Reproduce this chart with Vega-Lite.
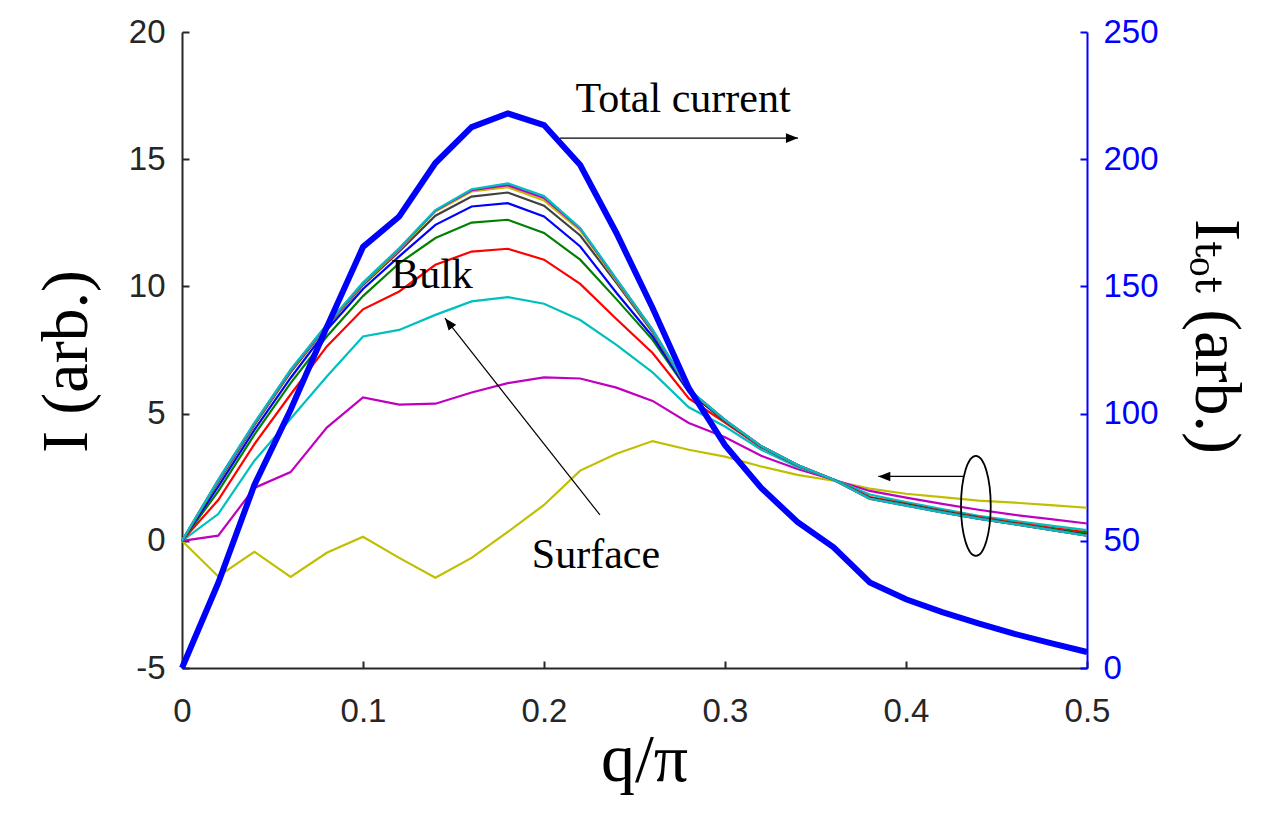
{
  "$schema": "https://vega.github.io/schema/vega-lite/v6.json",
  "width": 905,
  "height": 636,
  "autosize": {"type": "none"},
  "padding": {"left": 182, "top": 32, "right": 195, "bottom": 168},
  "background": "white",
  "datasets": {
    "curves": [
      {"layer":"1","q":0,"I":0},{"layer":"1","q":0.02,"I":-1.4},{"layer":"1","q":0.04,"I":-0.43},{"layer":"1","q":0.06,"I":-1.42},{"layer":"1","q":0.08,"I":-0.47},{"layer":"1","q":0.1,"I":0.16},{"layer":"1","q":0.12,"I":-0.67},{"layer":"1","q":0.14,"I":-1.45},{"layer":"1","q":0.16,"I":-0.67},{"layer":"1","q":0.18,"I":0.35},{"layer":"1","q":0.2,"I":1.41},{"layer":"1","q":0.22,"I":2.76},{"layer":"1","q":0.24,"I":3.42},{"layer":"1","q":0.26,"I":3.92},{"layer":"1","q":0.28,"I":3.58},{"layer":"1","q":0.3,"I":3.31},{"layer":"1","q":0.32,"I":2.92},{"layer":"1","q":0.34,"I":2.59},{"layer":"1","q":0.36,"I":2.36},{"layer":"1","q":0.38,"I":2.05},{"layer":"1","q":0.4,"I":1.85},{"layer":"1","q":0.42,"I":1.72},{"layer":"1","q":0.44,"I":1.58},{"layer":"1","q":0.46,"I":1.5},{"layer":"1","q":0.48,"I":1.4},{"layer":"1","q":0.5,"I":1.3},
      {"layer":"2","q":0,"I":0},{"layer":"2","q":0.02,"I":0.2},{"layer":"2","q":0.04,"I":2.08},{"layer":"2","q":0.06,"I":2.7},{"layer":"2","q":0.08,"I":4.45},{"layer":"2","q":0.1,"I":5.64},{"layer":"2","q":0.12,"I":5.35},{"layer":"2","q":0.14,"I":5.39},{"layer":"2","q":0.16,"I":5.83},{"layer":"2","q":0.18,"I":6.2},{"layer":"2","q":0.2,"I":6.42},{"layer":"2","q":0.22,"I":6.38},{"layer":"2","q":0.24,"I":6.02},{"layer":"2","q":0.26,"I":5.5},{"layer":"2","q":0.28,"I":4.63},{"layer":"2","q":0.3,"I":4.07},{"layer":"2","q":0.32,"I":3.34},{"layer":"2","q":0.34,"I":2.82},{"layer":"2","q":0.36,"I":2.4},{"layer":"2","q":0.38,"I":1.96},{"layer":"2","q":0.4,"I":1.7},{"layer":"2","q":0.42,"I":1.45},{"layer":"2","q":0.44,"I":1.22},{"layer":"2","q":0.46,"I":1.02},{"layer":"2","q":0.48,"I":0.85},{"layer":"2","q":0.5,"I":0.68},
      {"layer":"3","q":0,"I":0},{"layer":"3","q":0.02,"I":1.05},{"layer":"3","q":0.04,"I":3.15},{"layer":"3","q":0.06,"I":4.8},{"layer":"3","q":0.08,"I":6.46},{"layer":"3","q":0.1,"I":8.03},{"layer":"3","q":0.12,"I":8.29},{"layer":"3","q":0.14,"I":8.88},{"layer":"3","q":0.16,"I":9.41},{"layer":"3","q":0.18,"I":9.58},{"layer":"3","q":0.2,"I":9.32},{"layer":"3","q":0.22,"I":8.68},{"layer":"3","q":0.24,"I":7.7},{"layer":"3","q":0.26,"I":6.62},{"layer":"3","q":0.28,"I":5.25},{"layer":"3","q":0.3,"I":4.49},{"layer":"3","q":0.32,"I":3.58},{"layer":"3","q":0.34,"I":2.9},{"layer":"3","q":0.36,"I":2.42},{"layer":"3","q":0.38,"I":1.82},{"layer":"3","q":0.4,"I":1.52},{"layer":"3","q":0.42,"I":1.25},{"layer":"3","q":0.44,"I":0.98},{"layer":"3","q":0.46,"I":0.78},{"layer":"3","q":0.48,"I":0.6},{"layer":"3","q":0.5,"I":0.42},
      {"layer":"4","q":0,"I":0},{"layer":"4","q":0.02,"I":1.6},{"layer":"4","q":0.04,"I":3.8},{"layer":"4","q":0.06,"I":5.75},{"layer":"4","q":0.08,"I":7.64},{"layer":"4","q":0.1,"I":9.1},{"layer":"4","q":0.12,"I":9.8},{"layer":"4","q":0.14,"I":10.85},{"layer":"4","q":0.16,"I":11.37},{"layer":"4","q":0.18,"I":11.48},{"layer":"4","q":0.2,"I":11.05},{"layer":"4","q":0.22,"I":10.1},{"layer":"4","q":0.24,"I":8.72},{"layer":"4","q":0.26,"I":7.38},{"layer":"4","q":0.28,"I":5.6},{"layer":"4","q":0.3,"I":4.65},{"layer":"4","q":0.32,"I":3.68},{"layer":"4","q":0.34,"I":2.96},{"layer":"4","q":0.36,"I":2.4},{"layer":"4","q":0.38,"I":1.72},{"layer":"4","q":0.4,"I":1.45},{"layer":"4","q":0.42,"I":1.18},{"layer":"4","q":0.44,"I":0.93},{"layer":"4","q":0.46,"I":0.71},{"layer":"4","q":0.48,"I":0.51},{"layer":"4","q":0.5,"I":0.33},
      {"layer":"5","q":0,"I":0},{"layer":"5","q":0.02,"I":1.94},{"layer":"5","q":0.04,"I":4.17},{"layer":"5","q":0.06,"I":6.2},{"layer":"5","q":0.08,"I":8.03},{"layer":"5","q":0.1,"I":9.62},{"layer":"5","q":0.12,"I":10.91},{"layer":"5","q":0.14,"I":11.9},{"layer":"5","q":0.16,"I":12.51},{"layer":"5","q":0.18,"I":12.62},{"layer":"5","q":0.2,"I":12.1},{"layer":"5","q":0.22,"I":11.05},{"layer":"5","q":0.24,"I":9.5},{"layer":"5","q":0.26,"I":7.9},{"layer":"5","q":0.28,"I":5.85},{"layer":"5","q":0.3,"I":4.7},{"layer":"5","q":0.32,"I":3.7},{"layer":"5","q":0.34,"I":2.97},{"layer":"5","q":0.36,"I":2.4},{"layer":"5","q":0.38,"I":1.69},{"layer":"5","q":0.4,"I":1.43},{"layer":"5","q":0.42,"I":1.16},{"layer":"5","q":0.44,"I":0.9},{"layer":"5","q":0.46,"I":0.68},{"layer":"5","q":0.48,"I":0.47},{"layer":"5","q":0.5,"I":0.28},
      {"layer":"6","q":0,"I":0},{"layer":"6","q":0.02,"I":2.13},{"layer":"6","q":0.04,"I":4.36},{"layer":"6","q":0.06,"I":6.4},{"layer":"6","q":0.08,"I":8.29},{"layer":"6","q":0.1,"I":9.9},{"layer":"6","q":0.12,"I":11.18},{"layer":"6","q":0.14,"I":12.42},{"layer":"6","q":0.16,"I":13.14},{"layer":"6","q":0.18,"I":13.27},{"layer":"6","q":0.2,"I":12.75},{"layer":"6","q":0.22,"I":11.57},{"layer":"6","q":0.24,"I":9.75},{"layer":"6","q":0.26,"I":8.03},{"layer":"6","q":0.28,"I":5.85},{"layer":"6","q":0.3,"I":4.72},{"layer":"6","q":0.32,"I":3.71},{"layer":"6","q":0.34,"I":2.98},{"layer":"6","q":0.36,"I":2.4},{"layer":"6","q":0.38,"I":1.67},{"layer":"6","q":0.4,"I":1.41},{"layer":"6","q":0.42,"I":1.14},{"layer":"6","q":0.44,"I":0.88},{"layer":"6","q":0.46,"I":0.66},{"layer":"6","q":0.48,"I":0.44},{"layer":"6","q":0.5,"I":0.22},
      {"layer":"7","q":0,"I":0},{"layer":"7","q":0.02,"I":2.3},{"layer":"7","q":0.04,"I":4.55},{"layer":"7","q":0.06,"I":6.62},{"layer":"7","q":0.08,"I":8.42},{"layer":"7","q":0.1,"I":10.05},{"layer":"7","q":0.12,"I":11.37},{"layer":"7","q":0.14,"I":12.78},{"layer":"7","q":0.16,"I":13.53},{"layer":"7","q":0.18,"I":13.69},{"layer":"7","q":0.2,"I":13.17},{"layer":"7","q":0.22,"I":12.0},{"layer":"7","q":0.24,"I":10.14},{"layer":"7","q":0.26,"I":8.2},{"layer":"7","q":0.28,"I":5.9},{"layer":"7","q":0.3,"I":4.73},{"layer":"7","q":0.32,"I":3.72},{"layer":"7","q":0.34,"I":2.98},{"layer":"7","q":0.36,"I":2.4},{"layer":"7","q":0.38,"I":1.66},{"layer":"7","q":0.4,"I":1.4},{"layer":"7","q":0.42,"I":1.13},{"layer":"7","q":0.44,"I":0.87},{"layer":"7","q":0.46,"I":0.65},{"layer":"7","q":0.48,"I":0.43},{"layer":"7","q":0.5,"I":0.21},
      {"layer":"8","q":0,"I":0},{"layer":"8","q":0.02,"I":2.36},{"layer":"8","q":0.04,"I":4.6},{"layer":"8","q":0.06,"I":6.68},{"layer":"8","q":0.08,"I":8.46},{"layer":"8","q":0.1,"I":10.1},{"layer":"8","q":0.12,"I":11.44},{"layer":"8","q":0.14,"I":12.94},{"layer":"8","q":0.16,"I":13.73},{"layer":"8","q":0.18,"I":13.9},{"layer":"8","q":0.2,"I":13.38},{"layer":"8","q":0.22,"I":12.2},{"layer":"8","q":0.24,"I":10.22},{"layer":"8","q":0.26,"I":8.26},{"layer":"8","q":0.28,"I":5.93},{"layer":"8","q":0.3,"I":4.74},{"layer":"8","q":0.32,"I":3.72},{"layer":"8","q":0.34,"I":2.98},{"layer":"8","q":0.36,"I":2.4},{"layer":"8","q":0.38,"I":1.65},{"layer":"8","q":0.4,"I":1.39},{"layer":"8","q":0.42,"I":1.12},{"layer":"8","q":0.44,"I":0.87},{"layer":"8","q":0.46,"I":0.65},{"layer":"8","q":0.48,"I":0.43},{"layer":"8","q":0.5,"I":0.2},
      {"layer":"9","q":0,"I":0},{"layer":"9","q":0.02,"I":2.39},{"layer":"9","q":0.04,"I":4.62},{"layer":"9","q":0.06,"I":6.71},{"layer":"9","q":0.08,"I":8.48},{"layer":"9","q":0.1,"I":10.13},{"layer":"9","q":0.12,"I":11.48},{"layer":"9","q":0.14,"I":12.98},{"layer":"9","q":0.16,"I":13.78},{"layer":"9","q":0.18,"I":13.98},{"layer":"9","q":0.2,"I":13.48},{"layer":"9","q":0.22,"I":12.27},{"layer":"9","q":0.24,"I":10.27},{"layer":"9","q":0.26,"I":8.29},{"layer":"9","q":0.28,"I":5.94},{"layer":"9","q":0.3,"I":4.75},{"layer":"9","q":0.32,"I":3.72},{"layer":"9","q":0.34,"I":2.98},{"layer":"9","q":0.36,"I":2.4},{"layer":"9","q":0.38,"I":1.65},{"layer":"9","q":0.4,"I":1.38},{"layer":"9","q":0.42,"I":1.12},{"layer":"9","q":0.44,"I":0.87},{"layer":"9","q":0.46,"I":0.65},{"layer":"9","q":0.48,"I":0.43},{"layer":"9","q":0.5,"I":0.2},
      {"layer":"10","q":0,"I":0},{"layer":"10","q":0.02,"I":2.4},{"layer":"10","q":0.04,"I":4.64},{"layer":"10","q":0.06,"I":6.73},{"layer":"10","q":0.08,"I":8.5},{"layer":"10","q":0.1,"I":10.15},{"layer":"10","q":0.12,"I":11.5},{"layer":"10","q":0.14,"I":13.0},{"layer":"10","q":0.16,"I":13.82},{"layer":"10","q":0.18,"I":14.05},{"layer":"10","q":0.2,"I":13.55},{"layer":"10","q":0.22,"I":12.3},{"layer":"10","q":0.24,"I":10.3},{"layer":"10","q":0.26,"I":8.3},{"layer":"10","q":0.28,"I":5.95},{"layer":"10","q":0.3,"I":4.75},{"layer":"10","q":0.32,"I":3.72},{"layer":"10","q":0.34,"I":2.98},{"layer":"10","q":0.36,"I":2.4},{"layer":"10","q":0.38,"I":1.65},{"layer":"10","q":0.4,"I":1.38},{"layer":"10","q":0.42,"I":1.12},{"layer":"10","q":0.44,"I":0.87},{"layer":"10","q":0.46,"I":0.65},{"layer":"10","q":0.48,"I":0.43},{"layer":"10","q":0.5,"I":0.2}
    ],
    "total": [
      {"q":0,"Itot":0},{"q":0.02,"Itot":33.4},{"q":0.04,"Itot":72},{"q":0.06,"Itot":101.5},{"q":0.08,"Itot":134},{"q":0.1,"Itot":165.5},{"q":0.12,"Itot":177.5},{"q":0.14,"Itot":198.5},{"q":0.16,"Itot":212.6},{"q":0.18,"Itot":218},{"q":0.2,"Itot":213.4},{"q":0.22,"Itot":197.7},{"q":0.24,"Itot":171},{"q":0.26,"Itot":141.5},{"q":0.28,"Itot":110},{"q":0.3,"Itot":87.6},{"q":0.32,"Itot":70.8},{"q":0.34,"Itot":57.4},{"q":0.36,"Itot":47.4},{"q":0.38,"Itot":33.6},{"q":0.4,"Itot":27},{"q":0.42,"Itot":22},{"q":0.44,"Itot":17.5},{"q":0.46,"Itot":13.4},{"q":0.48,"Itot":9.8},{"q":0.5,"Itot":6.3}
    ],
    "labels": [
      {"text":"Total current","q":0.2768,"I":16.87},
      {"text":"Bulk","q":0.1381,"I":9.93},
      {"text":"Surface","q":0.2287,"I":-1.07}
    ],
    "arrows": [
      {"id":"total","q":0.2088,"I":15.83,"q2":0.3403,"I2":15.83},
      {"id":"bulk","q":0.2309,"I":1.02,"q2":0.1453,"I2":8.75},
      {"id":"ellipse","q":0.4316,"I":2.53,"q2":0.3847,"I2":2.53}
    ],
    "ellipse": [
      {"q":0.4386,"I":1.376}
    ]
  },
  "layer": [
    {
      "layer": [
        {
          "data": {"name": "curves"},
          "mark": {"type": "line", "strokeWidth": 2.2},
          "encoding": {
            "x": {
              "field": "q", "type": "quantitative", "title": "q/π",
              "scale": {"domain": [0, 0.5], "nice": false, "zero": false},
              "axis": {
                "values": [0, 0.1, 0.2, 0.3, 0.4, 0.5],
                "labelExpr": "'' + datum.value",
                "tickSize": -7,
                "titleX": 462, "titleY": 112,
                "titleAngle": 0, "titleAlign": "center", "titleBaseline": "alphabetic",
                "titleFontSize": 68
              }
            },
            "y": {
              "field": "I", "type": "quantitative", "title": "I (arb.)",
              "scale": {"domain": [-5, 20], "nice": false, "zero": false},
              "axis": {
                "values": [-5, 0, 5, 10, 15, 20],
                "labelExpr": "'' + datum.value",
                "tickSize": -7,
                "titleX": -96, "titleY": 329,
                "titleAngle": 270, "titleAlign": "center", "titleBaseline": "alphabetic",
                "titleFontSize": 66
              }
            },
            "color": {
              "field": "layer", "type": "nominal",
              "scale": {
                "domain": ["1","2","3","4","5","6","7","8","9","10"],
                "range": ["#bfbf00","#bf00bf","#00bfbf","#ff0000","#008000","#0000ff","#404040","#bfbf00","#bf00bf","#00bfbf"]
              },
              "legend": null
            }
          }
        },
        {
          "data": {"name": "arrows"},
          "mark": {"type": "rule", "color": "black", "strokeWidth": 1.2},
          "encoding": {
            "x": {"field": "q", "type": "quantitative", "title": "q/π"},
            "y": {"field": "I", "type": "quantitative", "title": "I (arb.)"},
            "x2": {"field": "q2"},
            "y2": {"field": "I2"}
          }
        },
        {
          "data": {"name": "arrows"},
          "transform": [{"filter": "datum.id == 'total'"}],
          "mark": {"type": "point", "shape": "M0,0L-0.4,1L0.4,1Z", "size": 576, "filled": true, "color": "black", "opacity": 1, "strokeWidth": 0, "angle": 90},
          "encoding": {
            "x": {"field": "q2", "type": "quantitative", "title": "q/π"},
            "y": {"field": "I2", "type": "quantitative", "title": "I (arb.)"}
          }
        },
        {
          "data": {"name": "arrows"},
          "transform": [{"filter": "datum.id == 'bulk'"}],
          "mark": {"type": "point", "shape": "M0,0L-0.4,1L0.4,1Z", "size": 576, "filled": true, "color": "black", "opacity": 1, "strokeWidth": 0, "angle": -38.2},
          "encoding": {
            "x": {"field": "q2", "type": "quantitative", "title": "q/π"},
            "y": {"field": "I2", "type": "quantitative", "title": "I (arb.)"}
          }
        },
        {
          "data": {"name": "arrows"},
          "transform": [{"filter": "datum.id == 'ellipse'"}],
          "mark": {"type": "point", "shape": "M0,0L-0.4,1L0.4,1Z", "size": 576, "filled": true, "color": "black", "opacity": 1, "strokeWidth": 0, "angle": 270},
          "encoding": {
            "x": {"field": "q2", "type": "quantitative", "title": "q/π"},
            "y": {"field": "I2", "type": "quantitative", "title": "I (arb.)"}
          }
        },
        {
          "data": {"name": "ellipse"},
          "mark": {"type": "point", "shape": "M0,-1A0.297,1,0,0,1,0,1A0.297,1,0,0,1,0,-1Z", "size": 10000, "filled": false, "color": "black", "opacity": 1, "strokeWidth": 1.8},
          "encoding": {
            "x": {"field": "q", "type": "quantitative", "title": "q/π"},
            "y": {"field": "I", "type": "quantitative", "title": "I (arb.)"}
          }
        },
        {
          "data": {"name": "labels"},
          "mark": {"type": "text", "font": "Liberation Serif", "fontSize": 42, "align": "center", "baseline": "alphabetic", "color": "black"},
          "encoding": {
            "x": {"field": "q", "type": "quantitative", "title": "q/π"},
            "y": {"field": "I", "type": "quantitative", "title": "I (arb.)"},
            "text": {"field": "text"}
          }
        }
      ]
    },
    {
      "data": {"name": "total"},
      "mark": {"type": "line", "strokeWidth": 6, "color": "#0000ff"},
      "encoding": {
        "x": {"field": "q", "type": "quantitative", "title": "q/π"},
        "y": {
          "field": "Itot", "type": "quantitative", "title": "Iₜₒₜ (arb.)",
          "scale": {"domain": [0, 250], "nice": false, "zero": false},
          "axis": {
            "orient": "right",
            "values": [0, 50, 100, 150, 200, 250],
            "labelExpr": "'' + datum.value",
            "tickSize": -7,
            "titleX": 108, "titleY": 304,
            "titleAngle": 90, "titleAlign": "center", "titleBaseline": "alphabetic",
            "titleFontSize": 66
          }
        }
      }
    }
  ],
  "resolve": {"scale": {"y": "independent"}},
  "config": {
    "view": {"stroke": null},
    "axis": {
      "grid": false,
      "labelFont": "Liberation Sans",
      "labelFontSize": 33,
      "labelFlush": false,
      "labelOverlap": false,
      "titleFont": "Liberation Serif, DejaVu Serif",
      "titleFontWeight": "normal",
      "titleColor": "#000000",
      "tickWidth": 2,
      "domainWidth": 2
    },
    "axisLeft": {"domainColor": "#262626", "tickColor": "#262626", "labelColor": "#262626", "labelPadding": 24},
    "axisBottom": {"domainColor": "#262626", "tickColor": "#262626", "labelColor": "#262626", "labelPadding": 34},
    "axisRight": {"domainColor": "#0000ff", "tickColor": "#0000ff", "labelColor": "#0000ff", "labelPadding": 23}
  }
}
